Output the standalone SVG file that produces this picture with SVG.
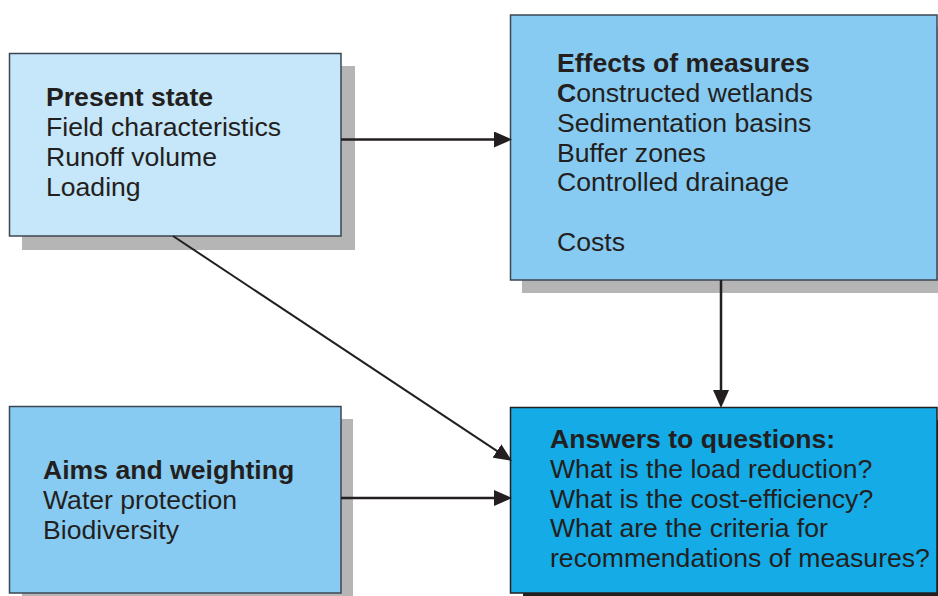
<svg xmlns="http://www.w3.org/2000/svg" width="938" height="596" viewBox="0 0 938 596">
  <style>
    .shadow { fill: #b5b5b5; }
    .box { stroke: #3c4650; stroke-width: 1.5; }
    .light { fill: #c6e6f9; }
    .mid { fill: #88cbf2; }
    .deep { fill: #14abe6; }
    text { font-family: "Liberation Sans", Arial, sans-serif; font-size: 26.6px; fill: #231f20; }
    .title { font-weight: bold; }
    .conn { stroke: #231f20; fill: none; }
  </style>
  <defs>
    <marker id="arrow" viewBox="0 0 18 16" refX="8" refY="8" markerWidth="18" markerHeight="16" markerUnits="userSpaceOnUse" orient="auto">
      <path d="M0,0 L18,8 L0,16 z" fill="#231f20"/>
    </marker>
  </defs>

  <rect width="938" height="596" fill="#ffffff"/>

  <!-- Present state -->
  <g id="present-state">
    <rect class="shadow" x="22" y="66" width="333" height="184"/>
    <rect class="box light" x="9.5" y="53.5" width="331.5" height="182.5"/>
    <text x="46" y="106"><tspan class="title">Present state</tspan></text>
    <text x="46" y="136">Field characteristics</text>
    <text x="46" y="166">Runoff volume</text>
    <text x="46" y="196">Loading</text>
  </g>

  <!-- Effects of measures -->
  <g id="effects-of-measures">
    <rect class="shadow" x="522" y="27" width="416" height="266"/>
    <rect class="box mid" x="510.5" y="15" width="426.5" height="265"/>
    <text x="557" y="72" class="title">Effects of measures</text>
    <text x="557" y="102"><tspan font-weight="bold">C</tspan>onstructed wetlands</text>
    <text x="557" y="132">Sedimentation basins</text>
    <text x="557" y="162">Buffer zones</text>
    <text x="557" y="191">Controlled drainage</text>
    <text x="557" y="251">Costs</text>
  </g>

  <!-- Aims and weighting -->
  <g id="aims-and-weighting">
    <rect class="shadow" x="22" y="419" width="331" height="180"/>
    <rect class="box mid" x="9.5" y="406.5" width="331.5" height="186.5"/>
    <text x="43" y="479" class="title">Aims and weighting</text>
    <text x="43" y="509">Water protection</text>
    <text x="43" y="539">Biodiversity</text>
  </g>

  <!-- Answers to questions -->
  <g id="answers-to-questions">
    <rect x="523" y="420" width="415" height="180" fill="#231f20"/>
    <rect class="deep" x="510.5" y="407.5" width="426.5" height="185.5" stroke="#231f20" stroke-width="1.5"/>
    <text x="550" y="448" class="title">Answers to questions:</text>
    <text x="550" y="478">What is the load reduction?</text>
    <text x="550" y="508">What is the cost-efficiency?</text>
    <text x="550" y="537">What are the criteria for</text>
    <text x="550" y="567">recommendations of measures?</text>
  </g>

  <!-- Connectors -->
  <g id="connectors">
    <line class="conn" x1="341" y1="139.5" x2="502" y2="139.5" stroke-width="2.5" marker-end="url(#arrow)"/>
    <line class="conn" x1="721" y1="280" x2="721" y2="398" stroke-width="2.5" marker-end="url(#arrow)"/>
    <line class="conn" x1="173" y1="236" x2="503.6" y2="455.4" stroke-width="2" marker-end="url(#arrow)"/>
    <line class="conn" x1="341" y1="498" x2="502" y2="498" stroke-width="2.5" marker-end="url(#arrow)"/>
  </g>
</svg>
